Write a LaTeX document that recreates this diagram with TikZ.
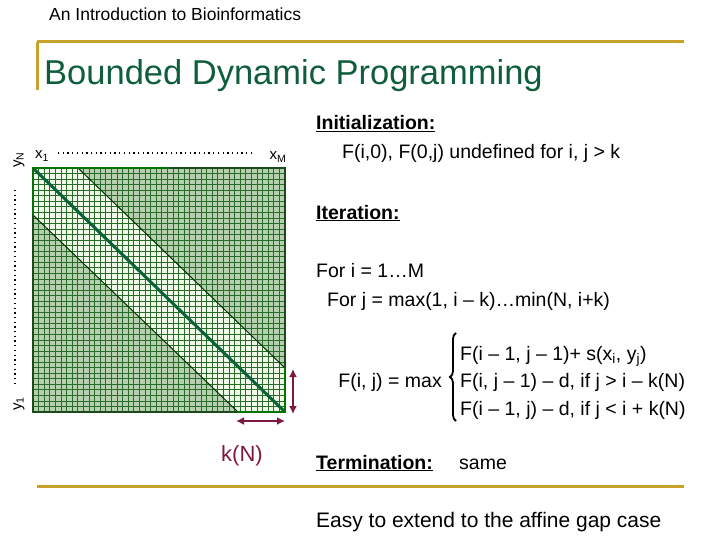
\documentclass[tikz,border=0pt]{standalone}
\usepackage{fontspec}
\setmainfont{Liberation Sans}
\usetikzlibrary{decorations.pathreplacing,arrows.meta}
\definecolor{gold}{HTML}{C9A22E}
\definecolor{titlegreen}{HTML}{0E5E3C}
\definecolor{darkfill}{HTML}{B6CFAF}
\definecolor{lightfill}{HTML}{EEF9E8}
\definecolor{gridgreen}{HTML}{2A6A2A}
\definecolor{diaggreen}{HTML}{0B6238}
\definecolor{maroon}{HTML}{7E1840}
\begin{document}
\begin{tikzpicture}[x=1pt,y=-1pt,
  body/.style={anchor=base west,inner sep=0pt,font=\fontsize{19.5}{23}\selectfont},
  gridline/.style={draw=gridgreen,line width=0.8pt},
  bandline/.style={draw=black!80!green,line width=1pt},
  goldline/.style={draw=gold,line width=3pt},
  dotline/.style={line width=1.3pt,dash pattern=on 1.3pt off 3.4pt},
  marrow/.style={draw=maroon,line width=2pt,{Latex[length=8pt,width=8pt]}-{Latex[length=8pt,width=8pt]}},
  axislabel/.style={inner sep=0pt,font=\fontsize{15}{17}\selectfont}]
\useasboundingbox (0,0) rectangle (720,540);
% header
\node[anchor=base west,inner sep=0pt,font=\fontsize{17.5}{20}\selectfont] (hdr) at (49,21) {An Introduction to Bioinformatics};
\draw[goldline] (37,42) -- (684,42);
\draw[goldline] (37,42) -- (37,90);
\node[anchor=base west,inner sep=0pt,text=titlegreen,font=\fontsize{34.5}{40}\selectfont] (ttl) at (44,85) {Bounded Dynamic Programming};
% grid
\fill[darkfill] (33,168) rectangle (285,412);
\fill[lightfill] (33,168) -- (78,168) -- (285,368) -- (285,412) -- (238,412) -- (33,215) -- cycle;
\foreach \i in {0,...,45} \draw[gridline] ({33+\i*252/45},168) -- ++(0,244);
\foreach \j in {0,...,44} \draw[gridline] (33,{168+\j*244/44}) -- ++(252,0);
\draw[bandline] (78,168) -- (285,368);
\draw[bandline] (33,215) -- (238,412);
\draw[draw=diaggreen,line width=3pt] (33,168) -- (285,412);
\draw[draw=gridgreen!70!black,line width=1.2pt] (33,168) rectangle (285,412);
\draw[draw=green!45!black,line width=2.5pt] (170,168) -- (33,168) -- (33,215);
\draw[draw=green!45!black,line width=2.5pt] (238,412) -- (285,412) -- (285,368);
% axis labels
\node[axislabel] (x1) at (42,156) {x\textsubscript{1}};
\node[axislabel] (xM) at (278,157) {x\textsubscript{M}};
\coordinate (xd1) at (58,153);
\coordinate (xd2) at (254,153);
\draw[dotline] (xd1) -- (xd2);
\node[axislabel,rotate=90] (yN) at (19,160) {y\textsubscript{N}};
\node[axislabel,rotate=90] (y1) at (19,404) {y\textsubscript{1}};
\coordinate (yd1) at (15,190);
\coordinate (yd2) at (15,386);
\draw[dotline] (yd1) -- (yd2);
% k(N) arrows
\coordinate (a1) at (293,369);
\coordinate (a2) at (293,414);
\draw[marrow] (a1) -- (a2);
\coordinate (b1) at (236,421);
\coordinate (b2) at (285,421);
\draw[marrow] (b1) -- (b2);
\node[anchor=base,inner sep=0pt,text=maroon,font=\fontsize{22}{26}\selectfont] (kN) at (242,461) {k(N)};
% text
\node[body] (init) at (316,130) {\underline{\textbf{Initialization:}}};
\node[body] (initt) at (342,159) {F(i,0), F(0,j) undefined for i, j > k};
\node[body] (iter) at (316,219) {\underline{\textbf{Iteration:}}};
\node[body] (fori) at (316,277) {For i = 1…M};
\node[body] (forj) at (327,306) {For j = max(1, i – k)…min(N, i+k)};
\node[body] (l1) at (460,360) {F(i – 1, j – 1)+ s(x\textsubscript{i}, y\textsubscript{j})};
\node[body] (l2) at (460,387) {F(i, j – 1) – d, if j > i – k(N)};
\node[body] (l3) at (460,415) {F(i – 1, j) – d, if j < i + k(N)};
\node[body,anchor=base east] (fij) at (442,387) {F(i, j) = max};
\coordinate (br1) at (456,333);
\coordinate (br2) at (456,421);
\draw[line width=1.8pt,decorate,decoration={brace,amplitude=6pt}] (br2) -- (br1);
\node[body] (term) at (316,469) {\underline{\textbf{Termination:}}};
\node[body] (same) at (459,469) {same};
\draw[goldline] (37,486) -- (684,486);
\node[anchor=base west,inner sep=0pt,font=\fontsize{21}{25}\selectfont] (easy) at (316,527) {Easy to extend to the affine gap case};
\end{tikzpicture}
\end{document}
